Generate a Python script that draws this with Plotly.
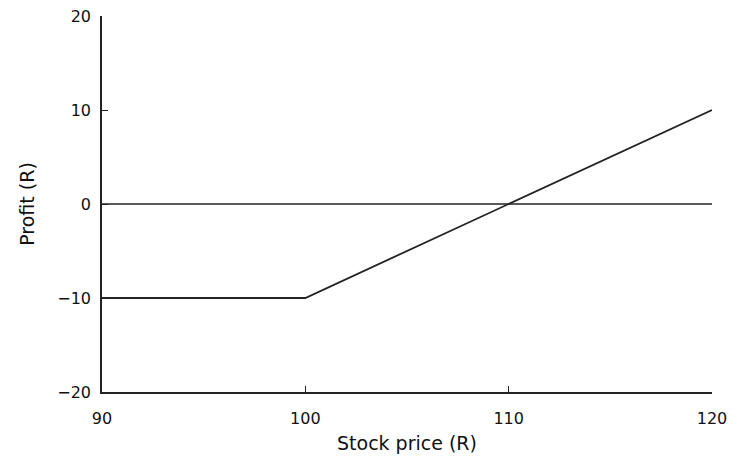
import plotly.graph_objects as go

stock_price = [90, 100, 120]
profit = [-10, -10, 10]
zero_x = [90, 120]
zero_y = [0, 0]
x_ticks = [90, 100, 110, 120]
y_ticks = [-20, -10, 0, 10, 20]

fig = go.Figure()
fig.add_trace(go.Scatter(x=zero_x, y=zero_y, mode="lines",
                         line=dict(color="#222", width=1.5), showlegend=False))
fig.add_trace(go.Scatter(x=stock_price, y=profit, mode="lines",
                         line=dict(color="#222", width=1.8), showlegend=False))

font = dict(family="DejaVu Sans, sans-serif", size=16, color="#111")
fig.update_layout(
    width=729, height=448,
    margin=dict(l=94, r=25, t=8, b=64, autoexpand=False),
    paper_bgcolor="white", plot_bgcolor="white",
    font=font,
    xaxis=dict(range=[90, 120], tickvals=x_ticks, showgrid=False, zeroline=False,
               showline=True, linecolor="#222", linewidth=1.6,
               ticks="inside", ticklen=6, tickcolor="#222", tickwidth=1.4,
               title=dict(text="Stock price (R)", standoff=10),
               ticklabelstandoff=11, automargin=False, ticklabeloverflow="allow"),
    yaxis=dict(range=[-20, 20], tickvals=y_ticks, showgrid=False, zeroline=False,
               showline=True, linecolor="#222", linewidth=1.6,
               ticks="inside", ticklen=6, tickcolor="#222", tickwidth=1.4,
               title=dict(text="Profit (R)", standoff=18),
               ticklabelstandoff=6, automargin=False, ticklabeloverflow="allow"),
)
fig.write_html("out.html")
